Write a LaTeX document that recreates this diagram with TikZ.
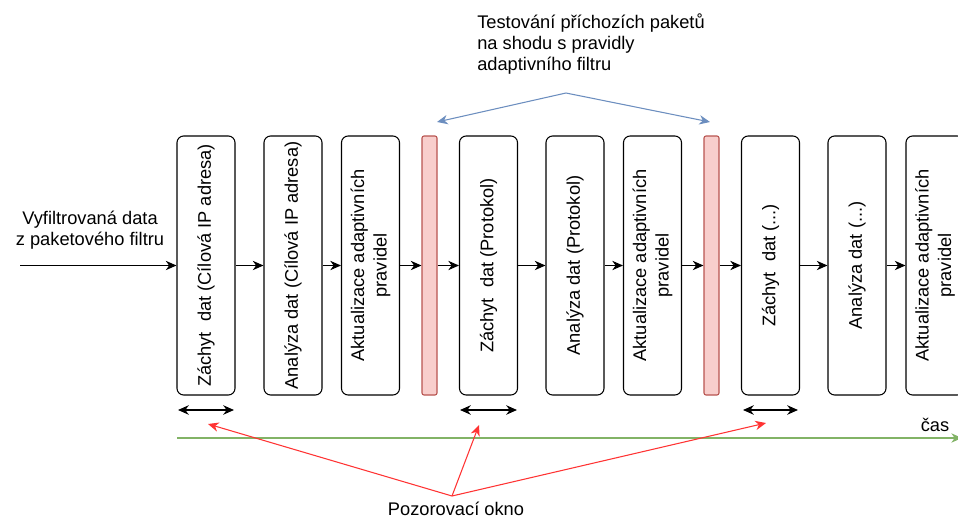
\documentclass[tikz,border=0pt]{standalone}
\usepackage{fontspec}
\setmainfont{Liberation Sans}
\usetikzlibrary{arrows.meta}
\definecolor{barfill}{HTML}{F8CECC}
\definecolor{bardraw}{HTML}{B85450}
\definecolor{bluearr}{HTML}{6C8EBF}
\definecolor{greenln}{HTML}{82B366}
\definecolor{redarr}{HTML}{FF3333}
\begin{document}
\begin{tikzpicture}[x=0.75pt,y=-0.75pt,
  stepbox/.style={draw=black,line width=0.8pt,rounded corners=5pt,fill=white,
    minimum width=43.5pt,minimum height=194.25pt,inner sep=0pt},
  barbox/.style={draw=bardraw,fill=barfill,line width=0.8pt,rounded corners=1.5pt,
    minimum width=11.25pt,minimum height=194.25pt,inner sep=0pt},
  vtext/.style={rotate=90,align=center,font=\fontsize{13.7}{16.8}\selectfont},
  flow/.style={-{Stealth[length=8pt,width=7pt,inset=2.5pt]},line width=0.8pt},
  window/.style={{Stealth[length=8pt,width=7pt,inset=2.5pt]}-{Stealth[length=8pt,width=7pt,inset=2.5pt]},line width=1.4pt},
  redlink/.style={-{Stealth[length=8pt,width=7pt,inset=2.5pt]},draw=redarr,line width=0.8pt},
  bluelink/.style={-{Stealth[length=8pt,width=7pt,inset=2.5pt]},draw=bluearr,line width=0.8pt},
  txt/.style={font=\fontsize{13.7}{16}\selectfont,inner sep=0pt}]
\useasboundingbox (0,0) rectangle (958,518);
\clip (0,0) rectangle (958,518);

% processing stages
\node[stepbox,label={[vtext]center:Záchyt\ \ dat (Cílová IP adresa)}] (b1) at (206,265.5) {};
\node[stepbox,label={[vtext]center:Analýza dat (Cílová IP adresa)}] (b2) at (293,265.5) {};
\node[stepbox,label={[vtext]center:Aktualizace adaptivních\\pravidel}] (b3) at (370.5,265.5) {};
\node[barbox] (r1) at (429.5,265.5) {};
\node[stepbox,label={[vtext]center:Záchyt\ \ dat (Protokol)}] (b4) at (488.5,265.5) {};
\node[stepbox,label={[vtext]center:Analýza dat (Protokol)}] (b5) at (575,265.5) {};
\node[stepbox,label={[vtext]center:Aktualizace adaptivních\\pravidel}] (b6) at (652.5,265.5) {};
\node[barbox] (r2) at (711.5,265.5) {};
\node[stepbox,label={[vtext]center:Záchyt\ \ dat (...)}] (b7) at (770.5,265.5) {};
\node[stepbox,label={[vtext]center:Analýza dat (...)}] (b8) at (857,265.5) {};
\node[stepbox,label={[vtext]center:Aktualizace adaptivních\\pravidel}] (b9) at (935,265.5) {};

% input
\node[txt,align=center] (input) at (90,230) {Vyfiltrovaná data\\z paketového filtru};
\coordinate (src) at (20,265.5);
\draw[flow] (src) -- (b1);
\draw[flow] (b1) -- (b2);
\draw[flow] (b2) -- (b3);
\draw[flow] (b3) -- (r1);
\draw[flow] (r1) -- (b4);
\draw[flow] (b4) -- (b5);
\draw[flow] (b5) -- (b6);
\draw[flow] (b6) -- (r2);
\draw[flow] (r2) -- (b7);
\draw[flow] (b7) -- (b8);
\draw[flow] (b8) -- (b9);

% rule testing annotation
\node[txt,align=left,anchor=west] (test) at (477,44) {Testování příchozích paketů\\na shodu s pravidly\\adaptivního filtru};
\coordinate (tapex) at (566,93);
\coordinate (tl) at (437,122);
\coordinate (tr) at (710,122);
\draw[bluelink] (tapex) -- (tl);
\draw[bluelink] (tapex) -- (tr);

% observation windows
\coordinate (w1a) at (178,410); \coordinate (w1b) at (234,410);
\coordinate (w2a) at (460,410); \coordinate (w2b) at (517,410);
\coordinate (w3a) at (743,410); \coordinate (w3b) at (798,410);
\draw[window] (w1a) -- (w1b);
\draw[window] (w2a) -- (w2b);
\draw[window] (w3a) -- (w3b);

% time axis
\coordinate (t0) at (177,438);
\coordinate (t1) at (962,438);
\draw[draw=greenln,line width=0.8pt,-{Stealth[length=8pt,width=7pt,inset=2.5pt]}] (t0) -- (t1);
\node[txt] (cas) at (935,425) {čas};

% window label
\node[txt] (po) at (456,509) {Pozorovací okno};
\coordinate (pa) at (452,496);
\coordinate (p1) at (208,424);
\coordinate (p2) at (479,425);
\coordinate (p3) at (766,423);
\draw[redlink] (pa) -- (p1);
\draw[redlink] (pa) -- (p2);
\draw[redlink] (pa) -- (p3);
\end{tikzpicture}
\end{document}
